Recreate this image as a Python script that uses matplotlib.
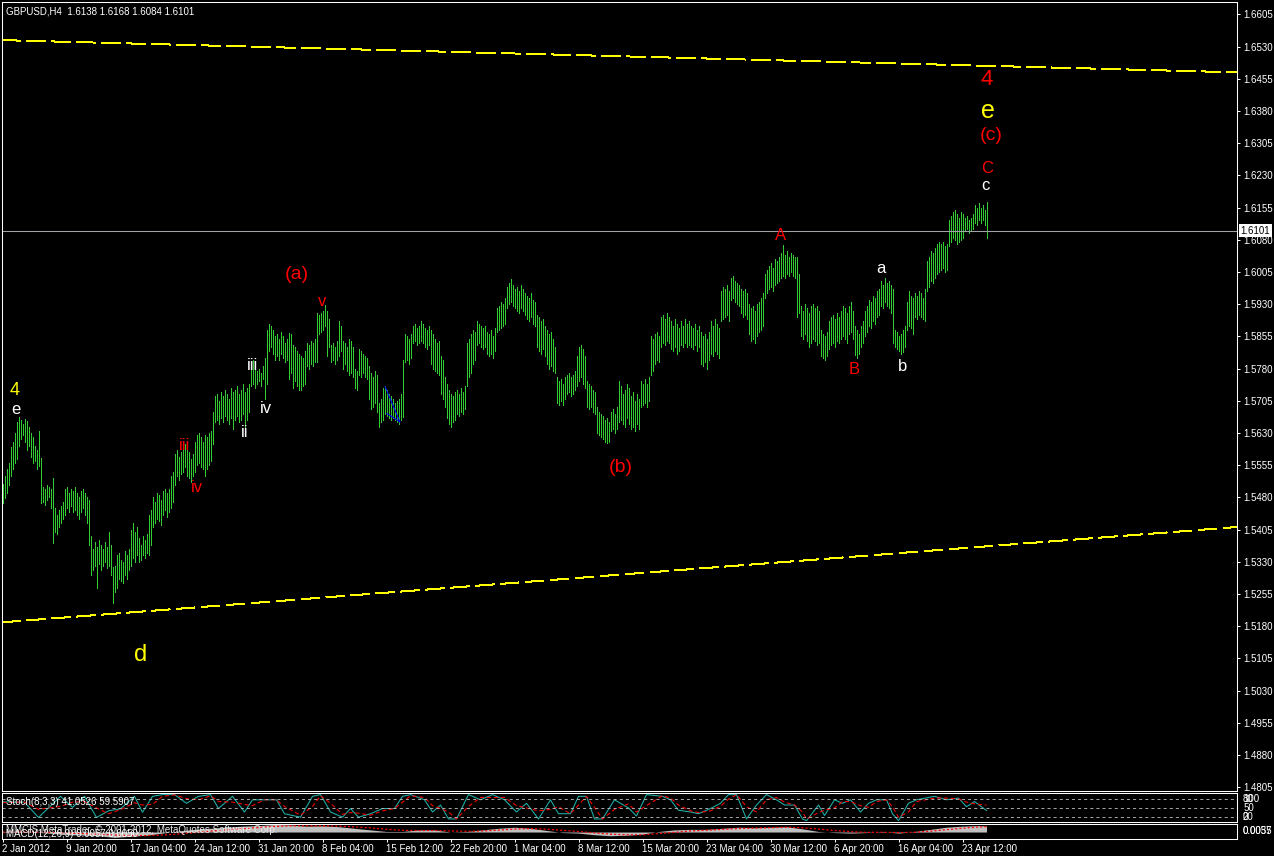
import numpy as np
import matplotlib
matplotlib.use("Agg")
import matplotlib.pyplot as plt

plt.rcParams['font.family'] = ['Liberation Sans', 'DejaVu Sans']
plt.rcParams['lines.scale_dashes'] = False

symbol_title = 'GBPUSD,H4  1.6138 1.6168 1.6084 1.6101'
last_price = 1.6101

# H4 bars, high / low in pips (1e-4), one per bar from 2 Jan 2012
bar_high_pips = [
    15512, 15530, 15545, 15560, 15597, 15610, 15630, 15655, 15667, 15660,
    15650, 15662, 15658, 15645, 15630, 15620, 15600, 15590, 15635, 15572,
    15505, 15500, 15510, 15505, 15500, 15525, 15455, 15440, 15450, 15460,
    15470, 15500, 15505, 15490, 15500, 15495, 15505, 15490, 15480, 15495,
    15500, 15490, 15480, 15475, 15390, 15360, 15375, 15365, 15380, 15370,
    15360, 15375, 15365, 15400, 15370, 15318, 15320, 15345, 15350, 15335,
    15330, 15355, 15345, 15360, 15405, 15420, 15400, 15410, 15385, 15370,
    15390, 15380, 15395, 15440, 15450, 15480, 15470, 15490, 15485, 15475,
    15495, 15500, 15490, 15500, 15530, 15540, 15580, 15590, 15575, 15585,
    15600, 15605, 15590, 15585, 15570, 15580, 15610, 15625, 15630, 15620,
    15610, 15625, 15620, 15630, 15635, 15680, 15715, 15720, 15705, 15725,
    15715, 15730, 15720, 15710, 15735, 15725, 15730, 15740, 15720, 15730,
    15745, 15725, 15735, 15745, 15795, 15800, 15790, 15775, 15780, 15770,
    15785, 15805, 15870, 15885, 15880, 15870, 15855, 15860, 15850, 15865,
    15855, 15840, 15850, 15863, 15860, 15835, 15830, 15820, 15815, 15810,
    15805, 15820, 15840, 15835, 15845, 15840, 15850, 15910, 15905, 15910,
    15915, 15928, 15915, 15895, 15835, 15840, 15830, 15845, 15890, 15880,
    15845, 15840, 15830, 15850, 15845, 15830, 15780, 15775, 15825, 15820,
    15815, 15810, 15805, 15785, 15770, 15760, 15775, 15765, 15700, 15710,
    15735, 15740, 15730, 15720, 15715, 15710, 15700, 15705, 15710, 15720,
    15800, 15860, 15855, 15850, 15860, 15880, 15885, 15875, 15880, 15890,
    15885, 15875, 15870, 15880, 15870, 15860, 15850, 15840, 15845, 15810,
    15800, 15760, 15745, 15730, 15720, 15715, 15725, 15730, 15720, 15735,
    15725, 15740, 15840, 15850, 15860, 15870, 15865, 15890, 15885, 15880,
    15875, 15880, 15865, 15860, 15870, 15855, 15875, 15920, 15925, 15935,
    15930, 15945, 15970, 15980, 15988, 15975, 15965, 15970, 15960, 15975,
    15965, 15955, 15950, 15945, 15955, 15940, 15935, 15905, 15900, 15890,
    15895, 15880, 15870, 15860, 15865, 15850, 15830, 15760, 15750, 15755,
    15745, 15760, 15765, 15770, 15760, 15765, 15775, 15810, 15830, 15835,
    15825, 15810, 15750, 15745, 15740, 15730, 15725, 15690, 15680, 15675,
    15670, 15660, 15665, 15655, 15680, 15685, 15675, 15690, 15750, 15740,
    15720, 15730, 15745, 15735, 15715, 15725, 15705, 15720, 15710, 15750,
    15745, 15755, 15745, 15760, 15855, 15850, 15860, 15865, 15855, 15900,
    15905, 15895, 15910, 15900, 15890, 15880, 15895, 15885, 15875, 15890,
    15880, 15895, 15885, 15890, 15880, 15875, 15885, 15870, 15880, 15865,
    15855, 15860, 15850, 15865, 15890, 15880, 15895, 15885, 15875, 15960,
    15970, 15965, 15975, 15960, 15990, 15995, 15985, 15980, 15975, 15965,
    15960, 15965, 15955, 15930, 15920, 15925, 15915, 15930, 15935, 15945,
    15955, 16000, 16010, 16020, 16025, 16015, 16035, 16030, 16040, 16050,
    16068, 16045, 16055, 16040, 16050, 16045, 16040, 16040, 16000, 15925,
    15915, 15930, 15920, 15910, 15925, 15930, 15920, 15925, 15915, 15870,
    15860, 15855, 15865, 15890, 15900, 15905, 15895, 15910, 15900, 15915,
    15925, 15920, 15910, 15925, 15935, 15915, 15880, 15870, 15860, 15880,
    15890, 15915, 15925, 15940, 15935, 15950, 15945, 15960, 15965, 15985,
    15975, 15990, 15980, 15985, 15975, 15965, 15870, 15865, 15855, 15860,
    15870, 15880, 15935, 15960, 15950, 15945, 15955, 15950, 15960, 15955,
    15945, 15965, 16030, 16040, 16055, 16050, 16060, 16070, 16075, 16070,
    16075, 16065, 16070, 16125, 16135, 16145, 16150, 16140, 16130, 16145,
    16140, 16130, 16135, 16125, 16130, 16140, 16160, 16155, 16165, 16155,
    16160, 16150, 16168,
]
bar_low_pips = [
    15466, 15478, 15490, 15508, 15530, 15545, 15560, 15570, 15600, 15615,
    15625, 15610, 15590, 15600, 15575, 15560, 15565, 15545, 15552, 15468,
    15470, 15462, 15475, 15480, 15455, 15374, 15400, 15395, 15410, 15420,
    15430, 15440, 15455, 15445, 15460, 15445, 15450, 15440, 15430, 15445,
    15455, 15440, 15420, 15370, 15300, 15310, 15320, 15270, 15325, 15310,
    15320, 15330, 15315, 15320, 15300, 15234, 15260, 15270, 15290, 15285,
    15280, 15300, 15290, 15310, 15320, 15340, 15330, 15345, 15330, 15335,
    15345, 15340, 15350, 15345, 15370, 15410, 15420, 15430, 15425, 15415,
    15440, 15450, 15435, 15445, 15455, 15470, 15510, 15530, 15520, 15535,
    15540, 15550, 15530, 15525, 15515, 15530, 15540, 15555, 15560, 15550,
    15545, 15530, 15545, 15555, 15565, 15605, 15655, 15660, 15650, 15665,
    15655, 15670, 15660, 15650, 15665, 15640, 15660, 15670, 15655, 15660,
    15675, 15640, 15660, 15680, 15740, 15745, 15735, 15745, 15750, 15740,
    15755, 15710, 15745, 15820, 15830, 15815, 15800, 15810, 15800, 15815,
    15805, 15795, 15800, 15755, 15770, 15735, 15750, 15740, 15730, 15730,
    15740, 15745, 15785, 15780, 15790, 15785, 15795, 15795, 15860, 15865,
    15870, 15880, 15810, 15830, 15795, 15800, 15790, 15800, 15810, 15820,
    15780, 15790, 15775, 15765, 15770, 15760, 15735, 15730, 15765, 15760,
    15770, 15760, 15755, 15710, 15685, 15690, 15700, 15680, 15645, 15655,
    15660, 15675, 15670, 15665, 15660, 15665, 15660, 15655, 15650, 15660,
    15667, 15795, 15800, 15790, 15805, 15840, 15845, 15835, 15840, 15845,
    15840, 15830, 15825, 15835, 15790, 15780, 15775, 15770, 15765, 15720,
    15710, 15690, 15665, 15650, 15645, 15655, 15660, 15675, 15670, 15680,
    15675, 15685, 15740, 15760, 15770, 15790, 15800, 15835, 15840, 15830,
    15825, 15830, 15815, 15810, 15815, 15805, 15820, 15865, 15870, 15875,
    15880, 15885, 15920, 15930, 15935, 15925, 15920, 15915, 15910, 15920,
    15915, 15905, 15895, 15890, 15900, 15885, 15880, 15830, 15820, 15815,
    15825, 15810, 15790, 15780, 15785, 15775, 15770, 15700, 15695, 15705,
    15695, 15710, 15720, 15725, 15715, 15720, 15730, 15740, 15750, 15760,
    15745, 15735, 15690, 15685, 15690, 15680, 15675, 15630, 15625, 15620,
    15615, 15610, 15607, 15610, 15635, 15640, 15630, 15640, 15655, 15660,
    15650, 15645, 15665, 15650, 15640, 15645, 15635, 15650, 15640, 15690,
    15695, 15700, 15690, 15705, 15765, 15775, 15790, 15800, 15795, 15830,
    15840, 15835, 15845, 15840, 15825, 15820, 15830, 15815, 15820, 15835,
    15830, 15840, 15830, 15835, 15830, 15825, 15835, 15820, 15830, 15790,
    15785, 15795, 15780, 15800, 15815, 15810, 15820, 15815, 15805, 15890,
    15895, 15900, 15905, 15890, 15940, 15945, 15935, 15930, 15925, 15910,
    15900, 15905, 15895, 15860, 15845, 15850, 15840, 15855, 15865, 15870,
    15880, 15945, 15955, 15965, 15970, 15960, 15975, 15980, 15985, 15990,
    15995, 15990, 16000, 15995, 16005, 15995, 15990, 15900, 15910, 15855,
    15850, 15860, 15845, 15830, 15840, 15850, 15845, 15835, 15840, 15810,
    15805, 15800, 15810, 15825, 15835, 15840, 15830, 15845, 15840, 15850,
    15855, 15850, 15840, 15860, 15865, 15850, 15812, 15805, 15815, 15830,
    15840, 15855, 15865, 15880, 15875, 15890, 15885, 15900, 15905, 15925,
    15920, 15935, 15925, 15920, 15910, 15840, 15830, 15825, 15820, 15815,
    15818, 15830, 15870, 15880, 15875, 15860, 15900, 15895, 15905, 15900,
    15895, 15890, 15960, 15970, 15985, 15980, 15990, 16000, 16005, 16010,
    16015, 16005, 16010, 16065, 16075, 16085, 16080, 16070, 16075, 16080,
    16085, 16100, 16105, 16095, 16100, 16105, 16120, 16115, 16125, 16120,
    16125, 16115, 16084,
]

date_labels = ['2 Jan 2012', '9 Jan 20:00', '17 Jan 04:00', '24 Jan 12:00',
               '31 Jan 20:00', '8 Feb 04:00', '15 Feb 12:00', '22 Feb 20:00',
               '1 Mar 04:00', '8 Mar 12:00', '15 Mar 20:00', '23 Mar 04:00',
               '30 Mar 12:00', '6 Apr 20:00', '16 Apr 04:00', '23 Apr 12:00']
date_label_bars = [0, 32, 64, 96, 128, 160, 192, 224, 256, 288, 320, 352,
                   384, 416, 448, 480]

# channel trendlines (bar, price at the two chart edges)
upper_line_bars = [-0.25, 617.25]
upper_line_prices = [1.6545, 1.6470]
lower_line_bars = [-0.25, 617.25]
lower_line_prices = [1.5189, 1.5411]
blue_line1_bars = [191.3, 198.7]
blue_line1_prices = [1.5738, 1.5656]
blue_line2_bars = [192.0, 198.7]
blue_line2_prices = [1.5676, 1.5656]

# wave labels
wave_text = ['4', 'e', 'iii', 'iv', 'ii', 'iii', 'iv', '(a)', 'v', '(b)',
             'A', 'a', 'B', 'b', 'C', 'c', '4', 'e', '(c)', 'd']
wave_bar = [5.9, 6.9, 91.1, 97.3, 121.3, 124.8, 131.5, 147.3, 159.8, 309.0,
            389.0, 439.3, 425.8, 450.0, 492.3, 491.3, 491.9, 492.8, 494.3, 69.3]
wave_price = [1.5728, 1.5684, 1.5602, 1.5503, 1.5630, 1.5788, 1.5686, 1.6000,
              1.5936, 1.5550, 1.6091, 1.6014, 1.5778, 1.5786, 1.6247, 1.6207,
              1.6453, 1.6380, 1.6324, 1.5112]
wave_color = ['#ffff00', 'white', 'red', 'red', 'white', 'white', 'white', 'red',
              'red', 'red', 'red', 'white', 'red', 'white', 'red', 'white',
              'red', '#ffff00', 'red', '#ffff00']
wave_size = [13, 12, 12, 12, 12, 12, 12, 14, 12, 14,
             12, 12, 12, 12, 12, 12, 16, 18, 14, 17]

# Stochastic (8,3,3)
stoch_bar = [0, 6, 11, 18, 29, 35, 41, 47, 53, 59,
             66, 70, 75, 80, 86, 92, 98, 104, 108, 115,
             121, 125, 131, 137, 141, 149, 155, 159, 164, 170,
             174, 178, 184, 190, 196, 200, 204, 211, 215, 219,
             223, 227, 233, 239, 245, 251, 257, 262, 268, 274,
             278, 284, 288, 292, 296, 300, 306, 313, 317, 322,
             330, 334, 338, 344, 348, 354, 359, 363, 367, 372,
             377, 382, 387, 391, 396, 400, 402, 408, 411, 416,
             420, 424, 429, 433, 437, 442, 445, 448, 453, 457,
             466, 472, 478, 482, 486, 492]
stoch_main = [71, 70, 70, 17, 90, 52, 90, 17, 40, 47,
              90, 35, 90, 96, 96, 66, 90, 96, 48, 90,
              36, 78, 78, 78, 30, 18, 90, 96, 36, 18,
              48, 18, 30, 48, 48, 90, 96, 78, 36, 60,
              12, 12, 96, 78, 96, 78, 36, 66, 12, 78,
              30, 30, 90, 90, 12, 12, 78, 50, 22, 96,
              90, 78, 42, 36, 30, 48, 66, 96, 96, 12,
              60, 96, 78, 60, 60, 12, 6, 60, 24, 78,
              66, 78, 36, 66, 78, 78, 30, 6, 66, 78,
              90, 78, 84, 54, 72, 41.05]
stoch_signal = [68, 70, 70, 45, 55, 70, 72, 50, 30, 44,
                68, 60, 62, 90, 95, 82, 78, 92, 72, 70,
                62, 58, 78, 78, 55, 25, 55, 92, 66, 28,
                34, 32, 25, 40, 48, 70, 92, 86, 58, 48,
                36, 12, 55, 86, 86, 86, 58, 50, 40, 45,
                54, 30, 60, 90, 52, 12, 45, 64, 36, 58,
                92, 84, 60, 40, 34, 40, 56, 80, 96, 54,
                36, 78, 86, 70, 60, 36, 12, 34, 42, 50,
                72, 72, 58, 52, 72, 78, 54, 18, 36, 72,
                84, 84, 81, 70, 64, 59.59]
stoch_levels = [20, 50, 80]

# MACD (12,26,9), in pips
macd_bar = [0, 8, 16, 24, 32, 40, 48, 56, 64, 72,
            80, 88, 96, 104, 112, 120, 128, 136, 144, 152,
            160, 168, 176, 184, 192, 200, 208, 216, 224, 232,
            240, 248, 256, 264, 272, 280, 288, 296, 304, 312,
            320, 328, 336, 344, 352, 360, 368, 376, 384, 392,
            400, 408, 416, 424, 432, 440, 448, 456, 464, 472,
            480, 488, 492]
macd_main = [-5, 5, 0, -12, -25, -28, -35, -50, -40, -30,
             -10, 10, 25, 35, 45, 55, 60, 70, 65, 55,
             58, 50, 35, 20, 5, 5, 20, 20, 0, 5,
             20, 35, 45, 35, 15, -5, -10, -25, -35, -30,
             -20, 5, 20, 25, 25, 35, 45, 40, 45, 50,
             30, 5, -5, -10, -5, 5, -10, 5, 25, 45,
             55, 60, 57]
macd_signal = [0, 0, 0, -3, -8, -14, -20, -28, -33, -33,
               -28, -18, -5, 8, 20, 32, 42, 52, 58, 58,
               57, 55, 48, 38, 26, 16, 14, 15, 10, 7,
               10, 18, 28, 32, 27, 16, 5, -8, -20, -26,
               -26, -15, -3, 10, 17, 25, 33, 37, 41, 45,
               40, 28, 15, 3, -3, -2, -5, -2, 8, 22,
               36, 47, 50]

W, H = 1274, 856
fig = plt.figure(figsize=(W / 100, H / 100), dpi=100, facecolor='black')


def px_axes(x0, y0, x1, y1):
    a = fig.add_axes([x0 / W, 1 - y1 / H, (x1 - x0) / W, (y1 - y0) / H])
    a.set_facecolor('black')
    for s in a.spines.values():
        s.set_color('white')
        s.set_linewidth(0.75)
    a.set_xlim(-0.25, 617.25)
    return a


ax = px_axes(2, 2, 1237, 791)
ax_st = px_axes(2, 793, 1237, 822)
ax_md = px_axes(2, 824, 1237, 839)

# --- price panel
n = min(len(bar_high_pips), len(bar_low_pips))
bars = np.arange(n)
highs = np.array(bar_high_pips[:n]) / 10000
lows = np.array(bar_low_pips[:n]) / 10000
ax.vlines(bars, lows, highs, colors='#32cd32', linewidth=0.5, antialiased=False)

ax.set_ylim(1.47962, 1.66338)
price_ticks = np.round(np.arange(1.4805, 1.6606, 0.0075), 4)
ax.yaxis.tick_right()
ax.set_yticks(price_ticks)
ax.set_yticklabels([f'{p:.4f}' for p in price_ticks])
ax.tick_params(axis='y', colors='white', labelcolor='white', labelsize=7,
               length=2.2, width=0.75, pad=2, direction='out')
ax.set_xticks([])

ax.axhline(last_price, color='#a0a4a8', linewidth=0.75)
ax.text(1.0028, last_price, f'{last_price:.4f}', transform=ax.get_yaxis_transform(),
        ha='left', va='center', fontsize=7, color='black', clip_on=False, zorder=10,
        bbox=dict(boxstyle='square,pad=0.15', fc='white', ec='none'))

for xs, ys in [(upper_line_bars, upper_line_prices), (lower_line_bars, lower_line_prices)]:
    ax.plot(xs, ys, color='#ffff00', linewidth=0.6, dashes=(12.96, 4.32),
            antialiased=False)
for xs, ys in [(blue_line1_bars, blue_line1_prices), (blue_line2_bars, blue_line2_prices)]:
    ax.plot(xs, ys, color='#0000ff', linewidth=0.75)

for t, b, p, c, s in zip(wave_text, wave_bar, wave_price, wave_color, wave_size):
    ax.text(b, p, t, color=c, fontsize=s, ha='center', va='center',
            family=['Liberation Sans', 'DejaVu Sans'])

fig.text(6 / W, 1 - 11 / H, symbol_title, color='white', fontsize=7, va='center')

# --- stochastic panel
ax_st.set_ylim(1.5, 101.5)
ax_st.plot(stoch_bar, stoch_main, color='#20b2aa', linewidth=0.75)
ax_st.plot(stoch_bar, stoch_signal, color='red', linewidth=0.75, dashes=(3, 2))
for lv in stoch_levels:
    ax_st.axhline(lv, color='#c0c0c0', linewidth=0.6, dashes=(2.2, 2.2))
ax_st.set_xticks([])
ax_st.set_yticks([])
tr = ax_st.get_yaxis_transform()
for lab, yv in [('100', 81), ('80', 80), ('50', 50), ('20', 20), ('0', 19)]:
    ax_st.text(1.0049, yv, lab, transform=tr, color='white', fontsize=7,
               ha='left', va='center', clip_on=False)
ax_st.text(0.0035, 0.7, 'Stoch(8,3,3) 41.0526 59.5907', transform=ax_st.transAxes,
           color='white', fontsize=7, va='center')

# --- MACD panel
ax_md.set_ylim(-0.0065, 0.0075)
mm = np.array(macd_main) / 10000
ms = np.array(macd_signal) / 10000
ax_md.fill_between(macd_bar, mm, 0, color='#c0c0c0', linewidth=0)
ax_md.plot(macd_bar, ms, color='red', linewidth=0.9, dashes=(1.5, 1.5))
ax_md.set_yticks([])
trm = ax_md.transAxes
ax_md.text(1.0049, 0.55, '0.0057', transform=trm, color='white', fontsize=7,
           ha='left', va='center', clip_on=False)
ax_md.text(1.0049, 0.55, '0.0035', transform=trm, color='white', fontsize=7,
           ha='left', va='center', clip_on=False)

ax_md.set_xticks(date_label_bars)
ax_md.set_xticklabels(date_labels)
for lab in ax_md.get_xticklabels():
    lab.set_ha('left')
ax_md.tick_params(axis='x', colors='white', labelcolor='white', labelsize=7,
                  length=2.2, width=0.75, pad=1.2, direction='out')

fig.text(6 / W, 1 - 830 / H, 'MMCIS MetaTrader, \u00a9 2001-2012, MetaQuotes Software Corp.',
         color='#e8e8e8', fontsize=7, va='center')
fig.text(6 / W, 1 - 834 / H, 'MACD(12,26,9) 0.0057 0.0050',
         color='white', fontsize=7, va='center')

fig.savefig('out.png', dpi=100, facecolor='black')
